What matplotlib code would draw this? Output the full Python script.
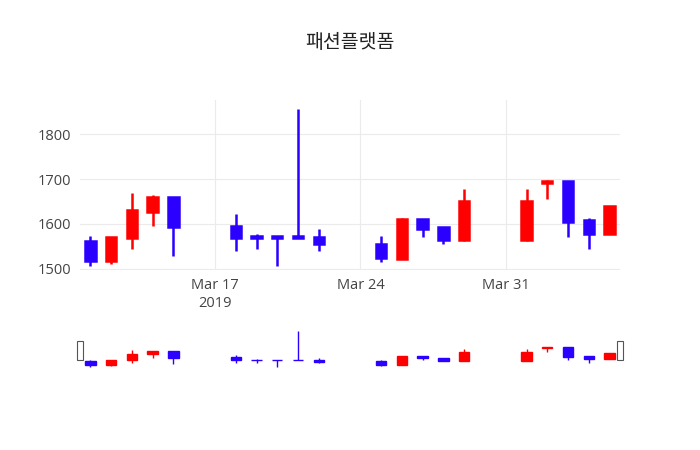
import matplotlib
matplotlib.use("Agg")
import matplotlib.pyplot as plt
import matplotlib.dates as mdates
import numpy as np
import pandas as pd

plt.rcParams['font.family'] = ['Open Sans', 'Noto Sans CJK KR', 'DejaVu Sans']

dates = ["2019-03-11", "2019-03-12", "2019-03-13", "2019-03-14", "2019-03-15",
         "2019-03-18", "2019-03-19", "2019-03-20", "2019-03-21", "2019-03-22",
         "2019-03-25", "2019-03-26", "2019-03-27", "2019-03-28", "2019-03-29",
         "2019-04-01", "2019-04-02", "2019-04-03", "2019-04-04", "2019-04-05"]
opens = [1561, 1517, 1568, 1626, 1661, 1596, 1572, 1572, 1572, 1571,
         1556, 1521, 1612, 1593, 1564, 1564, 1692, 1697, 1608, 1578]
highs = [1574, 1571, 1668, 1664, 1661, 1623, 1578, 1572, 1857, 1588,
         1574, 1613, 1612, 1593, 1679, 1679, 1698, 1697, 1614, 1641]
lows = [1505, 1511, 1545, 1595, 1529, 1540, 1545, 1505, 1568, 1540,
        1515, 1521, 1571, 1556, 1562, 1562, 1655, 1570, 1545, 1578]
closes = [1517, 1571, 1631, 1661, 1593, 1568, 1568, 1568, 1568, 1554,
          1523, 1612, 1589, 1564, 1652, 1652, 1697, 1604, 1578, 1641]

UP, DOWN = "#ff0000", "#2b00ff"
x = mdates.date2num(pd.to_datetime(dates))
o, h, l, c = map(np.array, (opens, highs, lows, closes))
cols = [UP if cc >= oo else DOWN for oo, cc in zip(o, c)]


def candles(ax, lw, width):
    ax.vlines(x, l, h, colors=cols, linewidth=lw, zorder=2)
    bottom = np.minimum(o, c)
    height = np.maximum(np.abs(c - o), 1.5)
    ax.bar(x, height, bottom=bottom, width=width, color=cols,
           edgecolor=cols, linewidth=lw, zorder=3)


fig = plt.figure(figsize=(7, 4.5), dpi=100)
ax = fig.add_axes([80 / 700, 1 - 270 / 450, 540 / 700, 170 / 450])
sl = fig.add_axes([80 / 700, 1 - 368 / 450, 540 / 700, 38 / 450])

xlim = (mdates.date2num(pd.Timestamp("2019-03-10 12:00")),
        mdates.date2num(pd.Timestamp("2019-04-05 12:00")))

candles(ax, 1.8, 0.5)
ax.set_xlim(*xlim)
ax.set_ylim(1497, 1877)
ax.set_yticks([1500, 1600, 1700, 1800])
ticks = pd.to_datetime(["2019-03-17", "2019-03-24", "2019-03-31"])
ax.set_xticks(mdates.date2num(ticks))
ax.set_xticklabels(["Mar 17\n2019", "Mar 24", "Mar 31"])
ax.grid(color="#ebebeb", linewidth=0.8, zorder=0)
for s in ax.spines.values():
    s.set_visible(False)
ax.tick_params(length=0, labelsize=10.5, colors="#444444", pad=6)

candles(sl, 1.0, 0.5)
sl.set_xlim(*xlim)
sl.set_ylim(1490, 1870)
sl.set_xticks([])
sl.set_yticks([])
for s in sl.spines.values():
    s.set_visible(False)
for gx in (0.0, 1.0):
    sl.add_patch(plt.Rectangle((gx - 0.006, 0.2), 0.012, 0.5, transform=sl.transAxes,
                               facecolor="white", edgecolor="#555555",
                               linewidth=0.8, clip_on=False, zorder=5))

fig.text(350 / 700, 1 - 42 / 450, "패션플랫폼", ha="center", va="center",
         fontsize=14, color="#222222", family=['Noto Sans CJK KR', 'DejaVu Sans'])

fig.savefig("out.png", dpi=100)
